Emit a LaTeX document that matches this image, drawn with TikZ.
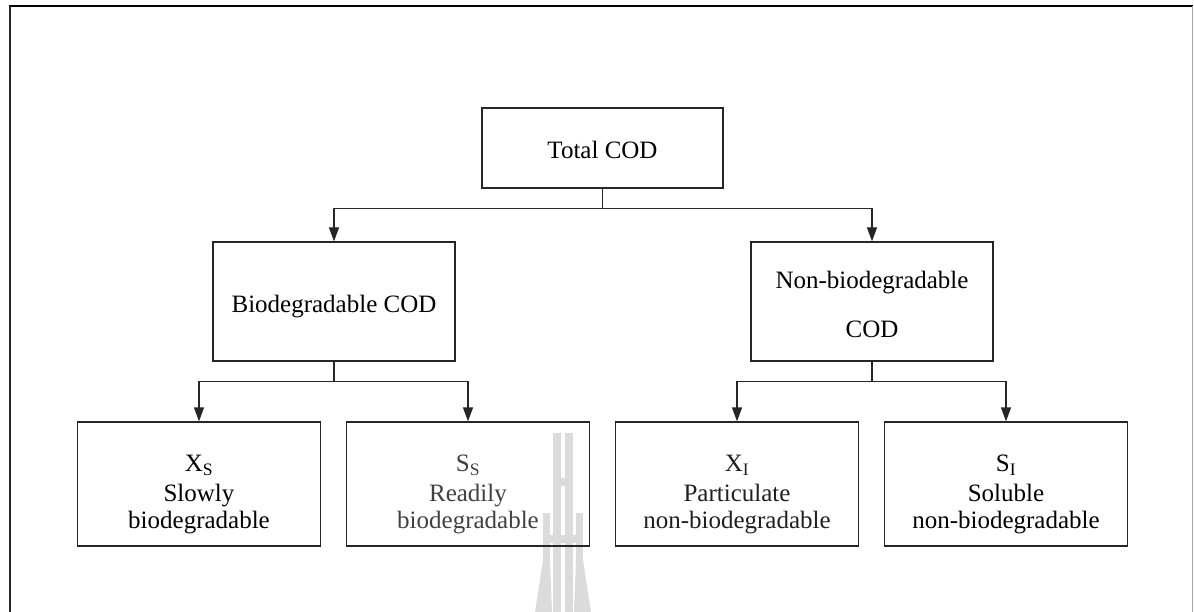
\documentclass[tikz,border=0pt]{standalone}
\usepackage{fontspec}
\setmainfont{Liberation Serif}
\usetikzlibrary{arrows.meta}

\begin{document}
\begin{tikzpicture}[x=1pt,y=-1pt,
  txt/.style={font=\fontsize{25}{27}\selectfont, align=center, inner sep=0pt},
  box/.style={draw=black!85, line width=1.3pt, rectangle, inner sep=0pt},
  topbox/.style={box, minimum width=241pt, minimum height=80pt},
  midbox/.style={box, minimum width=242pt, minimum height=119pt},
  leafbox/.style={box, minimum width=243pt, minimum height=124pt},
  link/.style={draw=black!85, line width=1.3pt},
  arrow/.style={link, -{Triangle[length=14pt,width=10pt]}},
  emblem/.style={fill=black!14, draw=none}
]
\useasboundingbox (0,0) rectangle (1194,612);

% page frame (open at the bottom)
\draw[line width=2.5pt, black] (9,6) -- (1193,6);
\draw[line width=2pt, black!85] (10,6) -- (10,612);
\draw[line width=1pt, black!35] (1192.5,6) -- (1192.5,612);

% faint emblem in the background
\fill[emblem] (552.5,433) rectangle (561,612);
\fill[emblem] (564.5,433) rectangle (573,612);
\fill[emblem] (552.5,478) rectangle (573,486);
\fill[emblem] (543,513) rectangle (550,560);
\fill[emblem] (576,513) rectangle (583,560);
\fill[emblem] (543,535) rectangle (583,543);
\fill[emblem] (543,560) -- (550,560) -- (552,612) -- (535,612) -- cycle;
\fill[emblem] (576,560) -- (583,560) -- (591,612) -- (574,612) -- cycle;

% boxes
\node[topbox]  (total)  at (602.5,148) {};
\node[midbox]  (bio)    at (334,301.5) {};
\node[midbox]  (nonbio) at (872,301.5) {};
\node[leafbox] (xs) at (199,484) {};
\node[leafbox] (ss) at (468,484) {};
\node[leafbox] (xi) at (737,484) {};
\node[leafbox] (si) at (1006,484) {};

% box texts
\node[txt] (total-t)  at (602.5,149.5) {Total COD};
\node[txt] (bio-t)    at (334,307) {Biodegradable COD};
\node[txt] (nonbio-t) at (872,304) {Non-biodegradable\\[22pt]COD};
\node[txt] (xs-t) at (199,494.5) {X\textsubscript{S}\\[3pt]Slowly\\biodegradable};
\node[txt, text=black!75] (ss-t) at (468,494.5) {S\textsubscript{S}\\[3pt]Readily\\biodegradable};
\node[txt, text=black!88] (xi-t) at (737,494.5) {X\textsubscript{I}\\[3pt]Particulate\\non-biodegradable};
\node[txt] (si-t) at (1006,494.5) {S\textsubscript{I}\\[3pt]Soluble\\non-biodegradable};

% connectors
\draw[link] (total.south) -- ++(0,20) coordinate (j0);
\draw[arrow] (j0) -| (bio.north);
\draw[arrow] (j0) -| (nonbio.north);

\draw[link] (bio.south) -- ++(0,20) coordinate (j1);
\draw[arrow] (j1) -| (xs.north);
\draw[arrow] (j1) -| (ss.north);

\draw[link] (nonbio.south) -- ++(0,20) coordinate (j2);
\draw[arrow] (j2) -| (xi.north);
\draw[arrow] (j2) -| (si.north);
\end{tikzpicture}
\end{document}
